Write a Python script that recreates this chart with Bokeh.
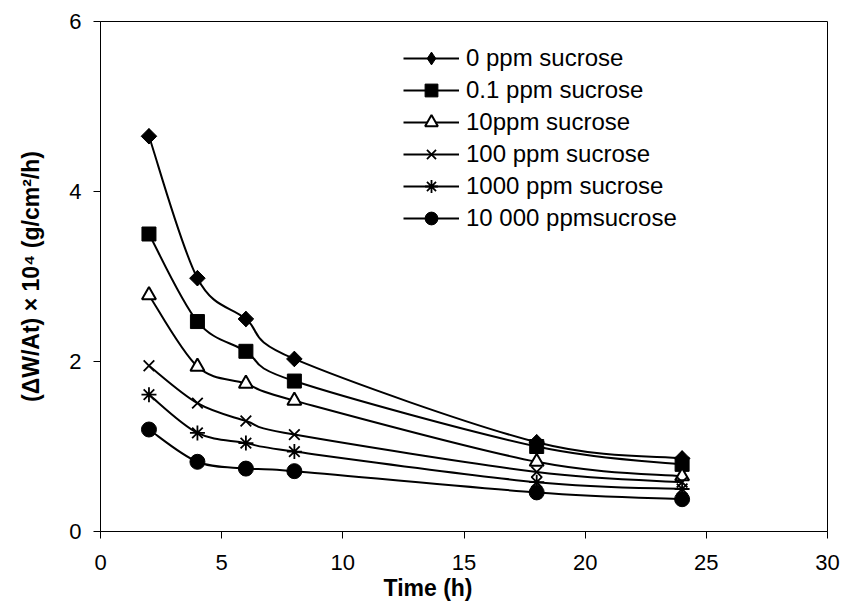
import numpy as np
from bokeh.plotting import figure
from bokeh.models import Legend, LegendItem, FixedTicker, Title
from bokeh.embed import file_html
from bokeh.resources import INLINE

time_h = [2, 4, 6, 8, 18, 24]
series_labels = ["0 ppm sucrose", "0.1 ppm sucrose", "10ppm sucrose",
                 "100 ppm sucrose", "1000 ppm sucrose", "10 000 ppmsucrose"]
s_0 = [4.65, 2.98, 2.50, 2.03, 1.05, 0.86]
s_01 = [3.50, 2.47, 2.12, 1.77, 1.00, 0.79]
s_10 = [2.78, 1.94, 1.74, 1.54, 0.82, 0.65]
s_100 = [1.95, 1.51, 1.30, 1.14, 0.70, 0.58]
s_1000 = [1.61, 1.16, 1.04, 0.94, 0.58, 0.50]
s_10000 = [1.20, 0.82, 0.74, 0.71, 0.46, 0.38]
x_ticks = [0, 5, 10, 15, 20, 25, 30]
y_ticks = [0, 2, 4, 6]
x_title = "Time (h)"
y_title = "(\u0394W/At) \u00d7 10\u2074 (g/cm\u00b2/h)"

all_series = [s_0, s_01, s_10, s_100, s_1000, s_10000]
markers = ["diamond", "square", "triangle", "x", "asterisk", "circle"]
sizes = [15, 14, 14, 15, 15, 15]
fills = ["black", "black", "white", "black", "black", "black"]
widths = [1, 1, 2, 1.8, 1.8, 1]

FONT = "Liberation Sans"

p = figure(width=845, height=607, x_range=(0, 30), y_range=(0, 6),
           output_backend="svg", toolbar_location=None,
           min_border_left=100, min_border_right=18,
           min_border_top=21, min_border_bottom=76)
p.xgrid.visible = False
p.ygrid.visible = False
p.outline_line_color = "black"
p.outline_line_width = 1
p.background_fill_color = "white"
p.border_fill_color = "white"

for ax in (p.xaxis[0], p.yaxis[0]):
    ax.axis_line_color = "black"
    ax.major_tick_line_color = "black"
    ax.minor_tick_line_color = None
    ax.major_tick_in = 0
    ax.major_tick_out = 7
    ax.major_label_text_font = FONT
    ax.major_label_text_font_size = "22px"
    ax.major_label_text_color = "black"
    ax.axis_label_text_font = FONT
    ax.axis_label_text_font_style = "bold"
    ax.axis_label_text_color = "black"

p.xaxis.ticker = FixedTicker(ticks=x_ticks)
p.yaxis.ticker = FixedTicker(ticks=y_ticks)
p.xaxis.major_label_standoff = 16
p.yaxis.major_label_standoff = 12
p.yaxis.axis_label = y_title
p.yaxis.axis_label_text_font_size = "23px"
p.yaxis.axis_label_standoff = 22

p.add_layout(Title(text=x_title, align="left", offset=283, standoff=0,
                   text_font=FONT, text_font_style="bold", text_font_size="23px",
                   text_color="black"), "below")


def bezier_ctrl(xs, ys):
    xs = np.asarray(xs, float)
    ys = np.asarray(ys, float)
    n = len(xs)
    out = {k: [] for k in ("x0", "y0", "x1", "y1", "cx0", "cy0", "cx1", "cy1")}
    for i in range(n - 1):
        ip = max(i - 1, 0)
        inn = min(i + 2, n - 1)
        out["x0"].append(xs[i]); out["y0"].append(ys[i])
        out["x1"].append(xs[i + 1]); out["y1"].append(ys[i + 1])
        out["cx0"].append(xs[i] + (xs[i + 1] - xs[ip]) / 6)
        out["cy0"].append(ys[i] + (ys[i + 1] - ys[ip]) / 6)
        out["cx1"].append(xs[i + 1] - (xs[inn] - xs[i]) / 6)
        out["cy1"].append(ys[i + 1] - (ys[inn] - ys[i]) / 6)
    return out


items = []
for lab, ys, mk, sz, fc, lw in zip(series_labels, all_series, markers,
                                   sizes, fills, widths):
    c = bezier_ctrl(time_h, ys)
    r_line = p.bezier(line_color="black", line_width=2, **c)
    r_pts = p.scatter(time_h, ys, marker=mk, size=sz, fill_color=fc,
                      line_color="black", line_width=lw)
    if mk == "diamond":
        # the reference's diamond is a square turned by 45 degrees
        p.scatter(time_h, ys, marker="square", angle=np.pi / 4, size=11,
                  fill_color="black", line_color="black", line_width=1)
    items.append(LegendItem(label=lab, renderers=[r_line, r_pts]))

legend = Legend(items=items, location=(303, 297), orientation="vertical")
legend.border_line_color = None
legend.background_fill_alpha = 0
legend.padding = 2
legend.margin = 0
legend.spacing = 0
legend.glyph_width = 56
legend.glyph_height = 32
legend.label_height = 32
legend.label_standoff = 7
legend.label_text_font = FONT
legend.label_text_font_size = "24px"
legend.label_text_color = "black"
p.add_layout(legend, "center")

open("out.html", "w").write(file_html(p, INLINE))
